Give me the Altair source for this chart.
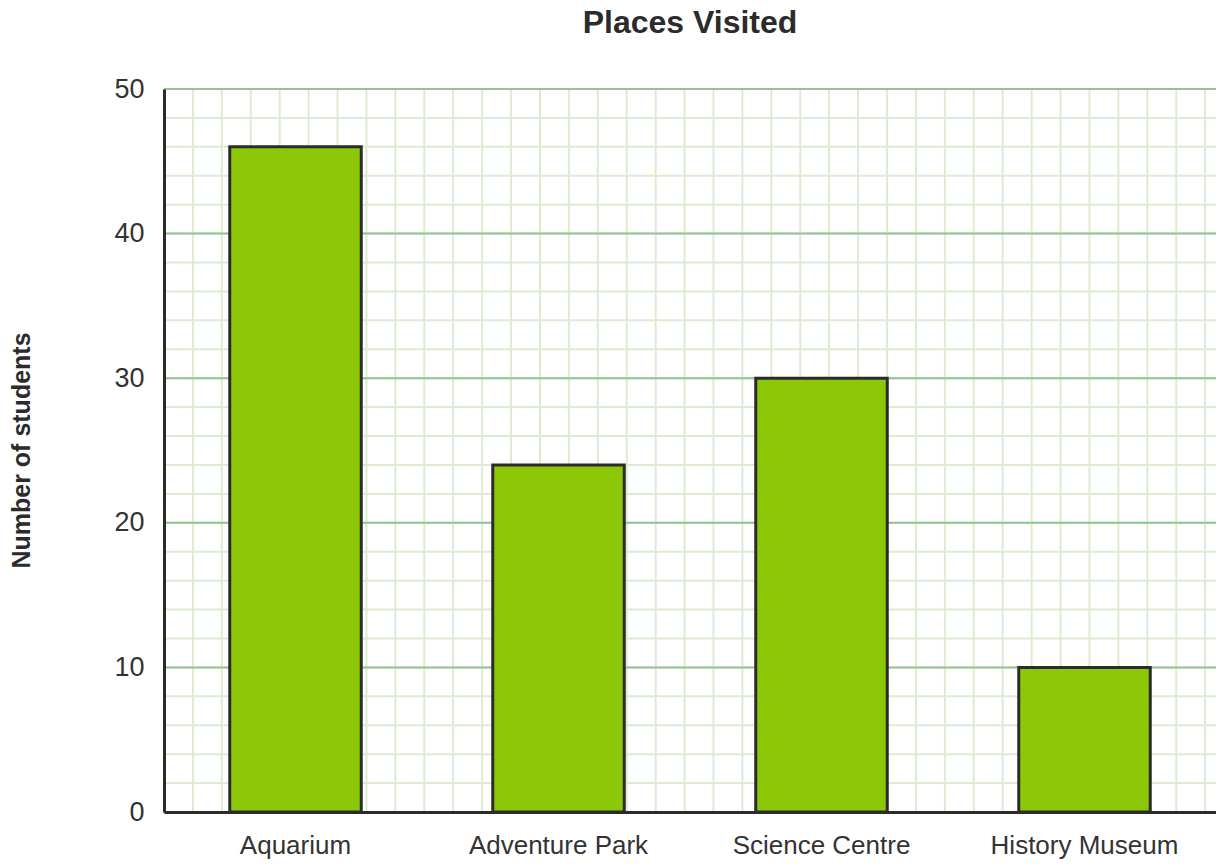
import altair as alt
import pandas as pd

places = ["Aquarium", "Adventure Park", "Science Centre", "History Museum"]
students = [46, 24, 30, 10]
minor_y = list(range(0, 51, 2))
major_y = list(range(0, 51, 10))
minor_x = list(range(0, 145, 4))

bars_df = pd.DataFrame({"place": places, "students": students})
yscale = alt.Scale(domain=[0, 50], nice=False)

FONT = "Liberation Sans"
DARK = "#2b2b2b"

yaxis = alt.Axis(
    title="Number of students",
    values=major_y,
    grid=False,
    ticks=False,
    labelFontSize=27,
    labelFont=FONT,
    labelColor="#333333",
    labelPadding=20,
    domainColor=DARK,
    domainWidth=3,
    titleFont=FONT,
    titleFontSize=25,
    titleFontWeight="bold",
    titleColor=DARK,
    titleAngle=270,
    titleX=-135,
    titleY=361,
    titleAlign="center",
    titleBaseline="alphabetic",
    zindex=1,
)

vgrid = alt.Chart(pd.DataFrame({"gx": minor_x})).mark_rule(
    color="#dcebd2", strokeWidth=2
).encode(
    x=alt.X("gx:Q", scale=alt.Scale(domain=[0, 145.5], nice=False, zero=False), axis=None)
)

hminor = alt.Chart(pd.DataFrame({"gy": minor_y})).mark_rule(
    color="#dcebd2", strokeWidth=2
).encode(y=alt.Y("gy:Q", scale=yscale, axis=yaxis))

hmajor = alt.Chart(pd.DataFrame({"gy": major_y})).mark_rule(
    color="#97c197", strokeWidth=2
).encode(y=alt.Y("gy:Q", scale=yscale, axis=yaxis))

bars = alt.Chart(bars_df).mark_bar(
    color="#8cc808", stroke=DARK, strokeWidth=3
).encode(
    x=alt.X(
        "place:N",
        sort=places,
        scale=alt.Scale(paddingInner=0.5, paddingOuter=0.25),
        axis=alt.Axis(
            title=None,
            labelAngle=0,
            ticks=False,
            grid=False,
            labelFontSize=26,
            labelFont=FONT,
            labelColor="#333333",
            labelPadding=20,
            labelLimit=0,
            domainColor=DARK,
            domainWidth=3,
            zindex=1,
        ),
    ),
    y=alt.Y("students:Q", scale=yscale, axis=yaxis),
)

chart = (
    alt.layer(vgrid, hminor, hmajor, bars)
    .resolve_scale(x="independent")
    .properties(
        width=1052,
        height=723,
        autosize=alt.AutoSizeParams(type="none"),
        padding={"left": 156, "top": 81, "right": 0, "bottom": 50},
        title=alt.TitleParams(
            "Places Visited",
            fontSize=32,
            fontWeight="bold",
            font=FONT,
            color=DARK,
            anchor="middle",
            offset=35,
        ),
    )
    .configure_view(stroke=None)
)

chart.save("out.html", embed_options={"renderer": "svg", "actions": False})
